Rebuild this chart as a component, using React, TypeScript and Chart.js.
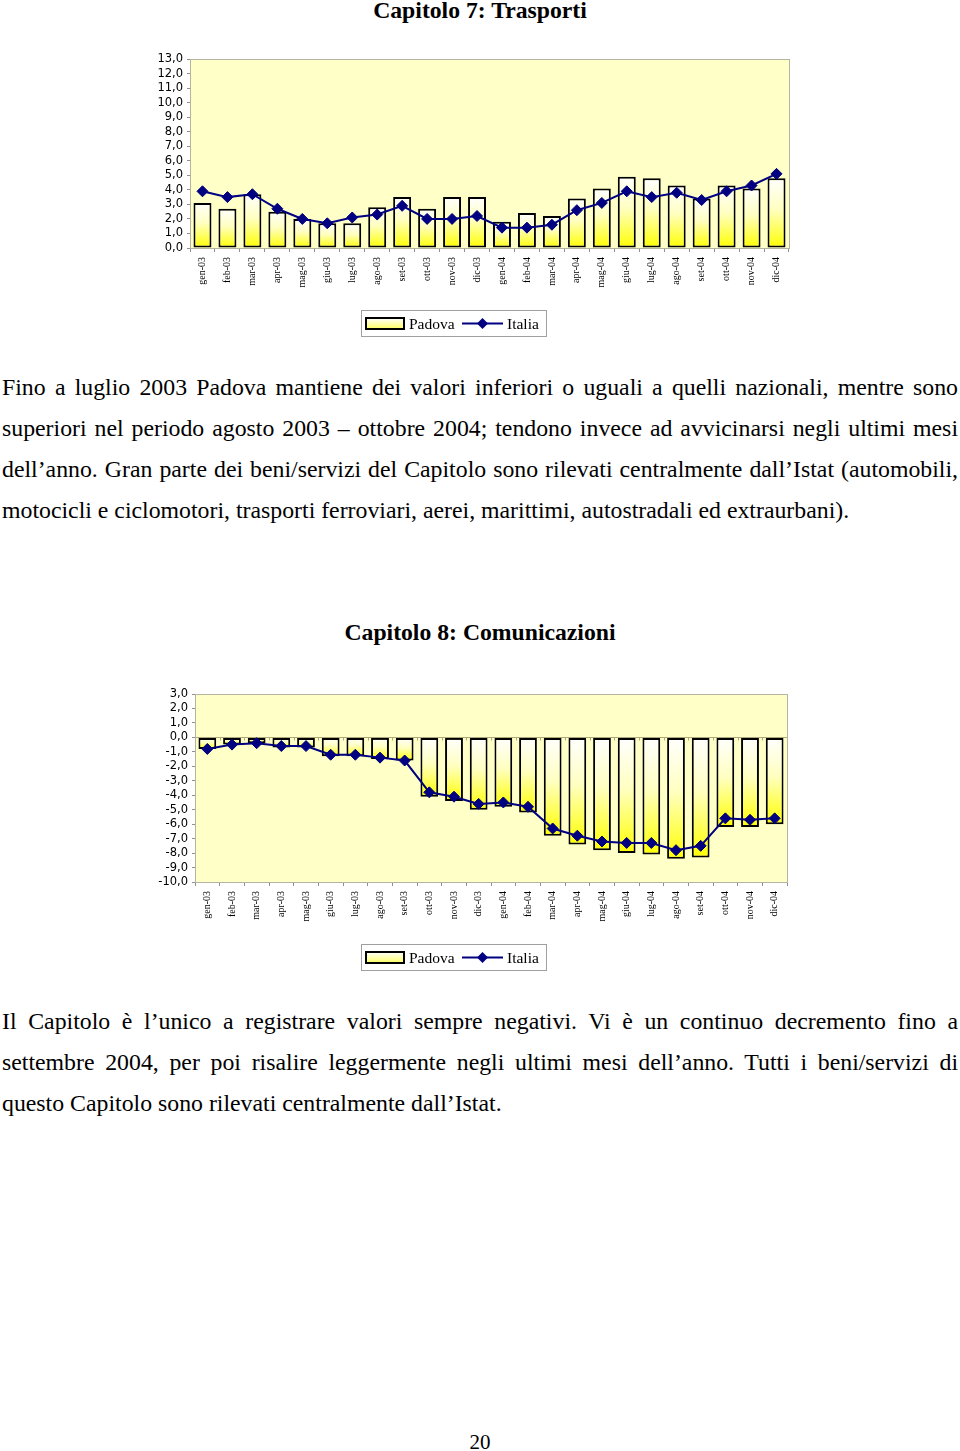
import React, { useEffect, useRef } from "react";
import { Chart, registerables } from "chart.js";
Chart.register(...registerables);

if (typeof document !== "undefined") {
  document.body.style.margin = "0";
  document.body.style.overflow = "hidden";
}

const months = [
  "gen-03", "feb-03", "mar-03", "apr-03", "mag-03", "giu-03", "lug-03", "ago-03",
  "set-03", "ott-03", "nov-03", "dic-03", "gen-04", "feb-04", "mar-04", "apr-04",
  "mag-04", "giu-04", "lug-04", "ago-04", "set-04", "ott-04", "nov-04", "dic-04",
];

const padovaTrasporti = [3.1, 2.7, 3.7, 2.5, 2.0, 1.7, 1.7, 2.8, 3.5, 2.7, 3.5, 3.5, 1.8, 2.4, 2.2, 3.4, 4.1, 4.9, 4.8, 4.3, 3.4, 4.3, 4.1, 4.8];
const italiaTrasporti = [3.9, 3.5, 3.7, 2.7, 2.0, 1.7, 2.1, 2.3, 2.9, 2.0, 2.0, 2.2, 1.4, 1.4, 1.6, 2.6, 3.1, 3.9, 3.5, 3.8, 3.3, 3.9, 4.3, 5.1];

const padovaComunicazioni = [-0.8, -0.5, -0.4, -0.7, -0.7, -1.3, -1.3, -1.5, -1.6, -4.1, -4.4, -5.0, -4.8, -5.2, -6.8, -7.4, -7.8, -8.0, -8.1, -8.4, -8.3, -6.2, -6.2, -6.0];
const italiaComunicazioni = [-0.8, -0.5, -0.4, -0.6, -0.6, -1.2, -1.2, -1.4, -1.6, -3.8, -4.1, -4.6, -4.5, -4.8, -6.3, -6.8, -7.2, -7.3, -7.3, -7.8, -7.5, -5.6, -5.7, -5.6];

const seriesNames = ["Padova", "Italia"];

const para1 = [
  "Fino a luglio 2003 Padova mantiene dei valori inferiori o uguali a quelli nazionali, mentre sono",
  "superiori nel periodo agosto 2003 \u2013 ottobre 2004; tendono invece ad avvicinarsi negli ultimi mesi",
  "dell\u2019anno. Gran parte dei beni/servizi del Capitolo sono rilevati centralmente dall\u2019Istat (automobili,",
  "motocicli e ciclomotori, trasporti ferroviari, aerei, marittimi, autostradali ed extraurbani).",
];
const para2 = [
  "Il Capitolo \u00e8 l\u2019unico a registrare valori sempre negativi. Vi \u00e8 un continuo decremento fino a",
  "settembre 2004, per poi risalire leggermente negli ultimi mesi dell\u2019anno. Tutti i beni/servizi di",
  "questo Capitolo sono rilevati centralmente dall\u2019Istat.",
];

const NAVY = "#000080";
const SERIF = "'Liberation Serif', 'Times New Roman', serif";

const decoPlugin = {
  id: "deco",
  beforeDraw(chart: any) {
    const { ctx, chartArea: a } = chart;
    ctx.save();
    ctx.fillStyle = "#FFFFC8";
    ctx.fillRect(a.left, a.top, a.right - a.left, a.bottom - a.top);
    ctx.restore();
  },
  beforeDatasetsDraw(chart: any, _a: any, opts: any) {
    if (!opts.zeroLine) return;
    const { ctx, chartArea: a, scales } = chart;
    const y0 = Math.round(scales.y.getPixelForValue(0)) + 0.5;
    ctx.save();
    ctx.strokeStyle = "#B0A878";
    ctx.lineWidth = 1;
    ctx.beginPath();
    ctx.moveTo(a.left, y0);
    ctx.lineTo(a.right, y0);
    const n = chart.data.labels.length;
    const w = (a.right - a.left) / n;
    for (let i = 0; i <= n; i++) {
      const x = Math.round(a.left + i * w) + 0.5;
      ctx.moveTo(x, y0);
      ctx.lineTo(x, y0 + 3);
    }
    ctx.stroke();
    ctx.restore();
  },
  afterDraw(chart: any, _a: any, opts: any) {
    const { ctx, chartArea: a } = chart;
    ctx.save();
    ctx.strokeStyle = "#B4B4A0";
    ctx.lineWidth = 1;
    ctx.strokeRect(Math.round(a.left) + 0.5, Math.round(a.top) + 0.5, Math.round(a.right - a.left), Math.round(a.bottom - a.top));

    // legend
    const lx = 361, ly = opts.legendTop, lw = 185, lh = 26;
    ctx.strokeStyle = "#A0A0A0";
    ctx.strokeRect(lx + 0.5, ly + 0.5, lw, lh);
    const cy = ly + lh / 2 + 0.5;
    const sx = 366, sw = 38, sh = 11;
    const g = ctx.createLinearGradient(0, cy - sh / 2, 0, cy + sh / 2);
    g.addColorStop(0, "#FFFFFF");
    g.addColorStop(1, "#FFFF60");
    ctx.fillStyle = g;
    ctx.fillRect(sx, cy - sh / 2, sw, sh);
    ctx.strokeStyle = "#000";
    ctx.lineWidth = 2;
    ctx.strokeRect(sx, cy - sh / 2, sw, sh);
    ctx.fillStyle = "#000";
    ctx.font = "15.5px " + SERIF;
    ctx.textBaseline = "middle";
    ctx.textAlign = "left";
    ctx.fillText(seriesNames[0], 409, cy + 1);
    ctx.strokeStyle = NAVY;
    ctx.lineWidth = 2;
    ctx.beginPath();
    ctx.moveTo(462, cy);
    ctx.lineTo(503, cy);
    ctx.stroke();
    ctx.fillStyle = NAVY;
    ctx.beginPath();
    ctx.moveTo(482.5 - 5.5, cy);
    ctx.lineTo(482.5, cy - 5.5);
    ctx.lineTo(482.5 + 5.5, cy);
    ctx.lineTo(482.5, cy + 5.5);
    ctx.closePath();
    ctx.fill();
    ctx.fillStyle = "#000";
    ctx.fillText(seriesNames[1], 507, cy + 1);
    ctx.restore();
  },
};

type ChartProps = {
  top: number;
  height: number;
  bars: number[];
  line: number[];
  yMin: number;
  yMax: number;
  yWidth: number;
  padLeft: number;
  padRight: number;
  padTop: number;
  padBottom: number;
  legendTop: number;
  zeroLine: boolean;
};

function BarLineChart(p: ChartProps) {
  const ref = useRef<HTMLCanvasElement | null>(null);
  useEffect(() => {
    if (!ref.current) return;
    const chart = new Chart(ref.current, {
      type: "bar",
      data: {
        labels: months,
        datasets: [
          {
            type: "line",
            label: seriesNames[1],
            data: p.line,
            order: 1,
            borderColor: NAVY,
            borderWidth: 2,
            backgroundColor: NAVY,
            pointStyle: "rectRot",
            pointRadius: 5.5,
            pointBackgroundColor: NAVY,
            pointBorderColor: NAVY,
            pointBorderWidth: 1,
            tension: 0,
          } as any,
          {
            type: "bar",
            label: seriesNames[0],
            data: p.bars,
            order: 2,
            borderColor: "#000",
            borderWidth: 2,
            borderSkipped: false,
            barPercentage: 0.72,
            categoryPercentage: 1,
            backgroundColor: (c: any) => {
              const ch = c.chart;
              const ys = ch.scales && ch.scales.y;
              if (!ys || c.type !== "data") return "#FFFF80";
              const v = c.raw as number;
              const p1 = ys.getPixelForValue(v);
              const p0 = ys.getPixelForValue(0);
              const t = Math.min(p0, p1), b = Math.max(p0, p1);
              if (!isFinite(t) || !isFinite(b) || b - t < 1) return "#FFFF80";
              const g = ch.ctx.createLinearGradient(0, t, 0, b);
              g.addColorStop(0, "#FFFFFF");
              g.addColorStop(0.45, "#FFFFC0");
              g.addColorStop(1, "#FFFF00");
              return g;
            },
          } as any,
        ],
      },
      options: {
        responsive: false,
        animation: false,
        events: [],
        layout: { padding: { left: p.padLeft, right: p.padRight, top: p.padTop, bottom: p.padBottom } },
        plugins: {
          legend: { display: false },
          tooltip: { enabled: false },
          deco: { zeroLine: p.zeroLine, legendTop: p.legendTop },
        } as any,
        scales: {
          x: {
            type: "category",
            offset: true,
            grid: { offset: true, drawOnChartArea: false, tickLength: 4, color: "#909090" },
            border: { display: false },
            ticks: {
              autoSkip: false,
              minRotation: 90,
              maxRotation: 90,
              padding: 5,
              color: "#000",
              font: { family: SERIF, size: 10 },
            },
            afterFit: (s: any) => { s.height = 45; },
          },
          y: {
            min: p.yMin,
            max: p.yMax,
            grid: { drawOnChartArea: false, tickLength: 3, color: "#909090" },
            border: { display: false },
            ticks: {
              autoSkip: false,
              stepSize: 1,
              padding: 4,
              color: "#000",
              font: { family: "'DejaVu Sans', Verdana, sans-serif", size: 11.5 },
              callback: (v: any) => Number(v).toFixed(1).replace(".", ","),
            },
            afterFit: (s: any) => { s.width = p.yWidth; },
          },
        },
      },
      plugins: [decoPlugin as any],
    });
    return () => chart.destroy();
  }, []);
  return (
    <canvas
      ref={ref}
      width={960}
      height={p.height}
      style={{ position: "absolute", left: 0, top: p.top, width: 960, height: p.height, display: "block" }}
    />
  );
}

function TextLines({ lines, top }: { lines: string[]; top: number }) {
  return (
    <>
      {lines.map((t, i) => {
        const last = i === lines.length - 1;
        return (
          <div
            key={i}
            style={{
              position: "absolute",
              left: 2,
              width: 956,
              top: top + i * 41,
              height: 41,
              lineHeight: "41px",
              fontFamily: SERIF,
              fontSize: 23.8,
              wordSpacing: last ? "0px" : "-3px",
              textAlign: last ? "left" : "justify",
              textAlignLast: last ? "left" : "justify",
              color: "#000",
              margin: 0,
            } as any}
          >
            {t}
          </div>
        );
      })}
    </>
  );
}

export default function App() {
  const titleStyle: any = {
    position: "absolute",
    left: 0,
    width: 960,
    textAlign: "center",
    fontFamily: SERIF,
    fontWeight: "bold",
    fontSize: 23.7,
    lineHeight: "30px",
    color: "#000",
  };
  return (
    <div style={{ position: "relative", width: 960, height: 1451, background: "#fff", overflow: "hidden" }}>
      <div style={{ ...titleStyle, top: -5 }}>Capitolo 7: Trasporti</div>
      <BarLineChart
        top={45}
        height={300}
        bars={padovaTrasporti}
        line={italiaTrasporti}
        yMin={0}
        yMax={13}
        yWidth={50}
        padLeft={140}
        padRight={171}
        padTop={14}
        padBottom={52}
        legendTop={265}
        zeroLine={false}
      />
      <TextLines lines={para1} top={367} />
      <div style={{ ...titleStyle, top: 617 }}>Capitolo 8: Comunicazioni</div>
      <BarLineChart
        top={680}
        height={300}
        bars={padovaComunicazioni}
        line={italiaComunicazioni}
        yMin={-10}
        yMax={3}
        yWidth={55}
        padLeft={140}
        padRight={173}
        padTop={14}
        padBottom={53}
        legendTop={264}
        zeroLine={true}
      />
      <TextLines lines={para2} top={1001} />
      <div style={{ position: "absolute", left: 0, width: 960, top: 1430, textAlign: "center", fontFamily: SERIF, fontSize: 21, lineHeight: "24px" }}>20</div>
    </div>
  );
}
